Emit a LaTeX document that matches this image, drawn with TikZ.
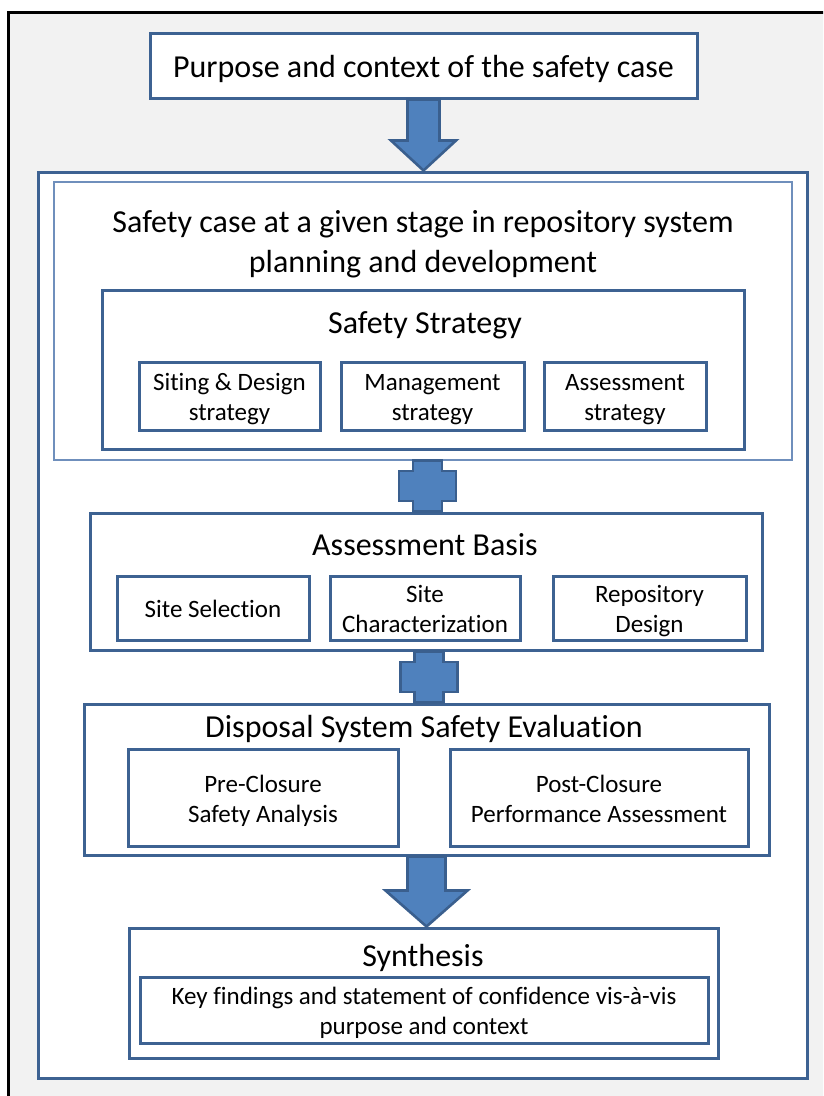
\documentclass[tikz,border=0pt]{standalone}
\usepackage{fontspec}
\setmainfont{Carlito}[Ligatures=NoCommon]
\usetikzlibrary{fit,calc}

\definecolor{frameblue}{HTML}{3D6292}
\definecolor{thinblue}{HTML}{6F8FBC}
\definecolor{arrowfill}{HTML}{4F81BD}
\definecolor{arrowedge}{HTML}{3A5F8E}
\definecolor{paper}{HTML}{F2F2F2}

% centred lines with strut-based spacing, nudged down to sit optically in the middle of a box
\newcommand\stack[1]{\raisebox{-3.5pt}[\height][\depth]{\begin{tabular}{@{}c@{}}#1\end{tabular}}}

% block arrow pointing down from one node anchor to another
\newcommand\downjoin[5]{% from, to, shaft half-width, head half-width, head length
  \coordinate (dj-top) at (#1);
  \coordinate (dj-tip) at (#1 |- #2);
  \draw[blockarrow] ($(dj-top)+(-#3,0)$) -- ($(dj-top)+(#3,0)$) -- ($(dj-tip)+(#3,-#5)$)
    -- ($(dj-tip)+(#4,-#5)$) -- (dj-tip) -- ($(dj-tip)+(-#4,-#5)$) -- ($(dj-tip)+(-#3,-#5)$) -- cycle;}

% plus-shaped connector between two stacked boxes
\newcommand\plusjoin[3]{% upper anchor, lower anchor, horizontal shift
  \coordinate (pj-c) at ($(#1)!0.5!(#2)+(#3,0)$);
  \coordinate (pj-t) at (pj-c |- #1);
  \coordinate (pj-b) at (pj-c |- #2);
  \draw[blockarrow] ($(pj-t)+(-14.5,0)$) -- ($(pj-t)+(14.5,0)$) -- ($(pj-c)+(14.5,-15)$)
    -- ($(pj-c)+(28.5,-15)$) -- ($(pj-c)+(28.5,15)$) -- ($(pj-c)+(14.5,15)$)
    -- ($(pj-b)+(14.5,0)$) -- ($(pj-b)+(-14.5,0)$) -- ($(pj-c)+(-14.5,15)$)
    -- ($(pj-c)+(-28.5,15)$) -- ($(pj-c)+(-28.5,-15)$) -- ($(pj-c)+(-14.5,-15)$) -- cycle;}

\begin{document}
\begin{tikzpicture}[x=1pt,y=-1pt,
  bx/.style={draw=frameblue, line width=3pt, fill=white, inner sep=0pt},
  thinbx/.style={draw=thinblue, line width=1.3pt, fill=white, inner sep=0pt},
  big/.style={font=\fontsize{32}{40}\selectfont, align=center},
  small/.style={font=\fontsize{25}{30}\selectfont, align=center},
  sized/.style 2 args={minimum width=#1pt, minimum height=#2pt},
  blockarrow/.style={fill=arrowfill, draw=arrowedge, line width=2.6pt, line join=miter},
]
\useasboundingbox (0,0) rectangle (823,1096);
\clip (0,0) rectangle (823,1096);
\draw[fill=paper, line width=3pt] (8,12) rectangle (850,1130);

% purpose
\node[bx, big, sized={547}{65}] (purpose) at (423.5,65.5) {\stack{Purpose and context of the safety case}};

% main container
\node[bx, fit={(38,172) (807,1078)}] (container) {};

% safety case stage
\node[thinbx, fit={(54,182) (792,460)}] (stage) {};
\node[big] (stagetitle) at (423,244) {Safety case at a given stage in repository system\\planning and development};

\node[bx, fit={(102,290) (744,449)}] (strategy) {};
\node[big] (strategytitle) at (425,325) {Safety Strategy};
\node[bx, small, sized={181}{68}] (siting) at (229.5,396) {\stack{Siting \& Design\\strategy}};
\node[bx, small, sized={183}{68}] (management) at (432.5,396) {\stack{Management\\strategy}};
\node[bx, small, sized={162}{68}] (assessment) at (625,396) {\stack{Assessment\\strategy}};

% assessment basis
\node[bx, fit={(90,513) (762,650)}] (basis) {};
\node[big] (basistitle) at (425,545) {Assessment Basis};
\node[bx, small, sized={192}{64}] (siteselection) at (213,608) {\stack{Site Selection}};
\node[bx, small, sized={190}{64}] (sitechar) at (425,608) {\stack{Site\\Characterization}};
\node[bx, small, sized={193}{64}] (repdesign) at (649.5,608) {\stack{Repository\\Design}};

% disposal system safety evaluation
\node[bx, fit={(84,704) (769,855)}] (dse) {};
\node[big] (dsetitle) at (424,729) {Disposal System Safety Evaluation};
\node[bx, small, sized={270}{97}] (preclosure) at (263,798) {\stack{Pre-Closure\\Safety Analysis}};
\node[bx, small, sized={298}{97}] (postclosure) at (599,798) {\stack{Post-Closure\\Performance Assessment}};

% synthesis
\node[bx, fit={(129,928) (718,1058)}] (synthesis) {};
\node[big] (synthesistitle) at (423,958) {Synthesis};
\node[bx, small, sized={568}{66}] (findings) at (424,1010) {\stack{Key findings and statement of confidence vis-à-vis\\purpose and context}};

% connectors
\downjoin{purpose.south}{container.north}{16}{32.5}{30}
\plusjoin{stage.south}{basis.north}{3}
\plusjoin{basis.south}{dse.north}{3}
\downjoin{dse.south}{synthesis.north}{19}{41}{36}
\end{tikzpicture}
\end{document}
